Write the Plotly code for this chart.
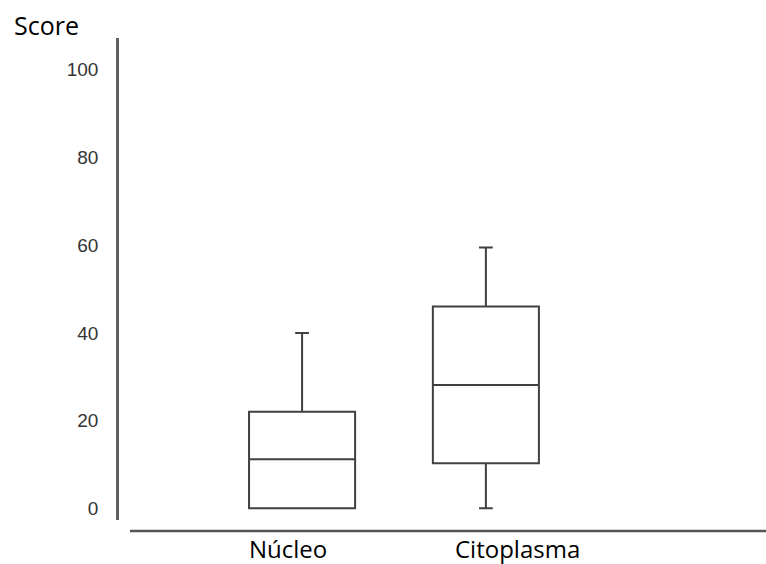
import plotly.graph_objects as go

categories = ["Núcleo", "Citoplasma"]
q1_vals = [0, 10.3]
median_vals = [11.2, 28.1]
q3_vals = [22.0, 46.0]
lower_vals = [0, 0]
upper_vals = [40, 59.5]
y_ticks = [0, 20, 40, 60, 80, 100]
label_shift = [-14.5, 32]

fig = go.Figure()
for i, cat in enumerate(categories):
    fig.add_trace(go.Box(
        x=[cat], q1=[q1_vals[i]], median=[median_vals[i]], q3=[q3_vals[i]],
        lowerfence=[lower_vals[i]], upperfence=[upper_vals[i]],
        boxpoints=False, width=0.577, whiskerwidth=0.13,
        fillcolor="white", line=dict(color="#404040", width=2),
        showlegend=False, hoverinfo="skip",
    ))

for i, cat in enumerate(categories):
    fig.add_annotation(x=cat, xref="x", y=0, yref="paper", yanchor="middle",
                       yshift=-28, xshift=label_shift[i], text=cat, showarrow=False,
                       font=dict(family="Open Sans", size=24, color="black"))

fig.add_annotation(x=(46 - 119) / 647, xref="paper", y=1 + (38 - 25) / 482, yref="paper",
                   xanchor="center", yanchor="middle", text="Score", showarrow=False,
                   font=dict(family="Open Sans", size=25, color="black"))

fig.add_shape(type="line", xref="paper", yref="paper",
              x0=(130 - 119) / 647, x1=1, y0=-11 / 482, y1=-11 / 482,
              line=dict(color="#555555", width=2.5))

fig.update_layout(
    width=766, height=564,
    margin=dict(l=119, r=0, t=38, b=44),
    paper_bgcolor="white", plot_bgcolor="white",
    xaxis=dict(type="category", range=[-0.996, 2.524], showticklabels=False,
               showline=False, showgrid=False, zeroline=False, ticks=""),
    yaxis=dict(range=[-2.67, 107.25], tickvals=y_ticks, showgrid=False, zeroline=False,
               showline=True, linecolor="#606060", linewidth=2.5, ticks="",
               ticklabelstandoff=14,
               tickfont=dict(family="Arial", size=19, color="#333333")),
)

fig.write_html("out.html")
